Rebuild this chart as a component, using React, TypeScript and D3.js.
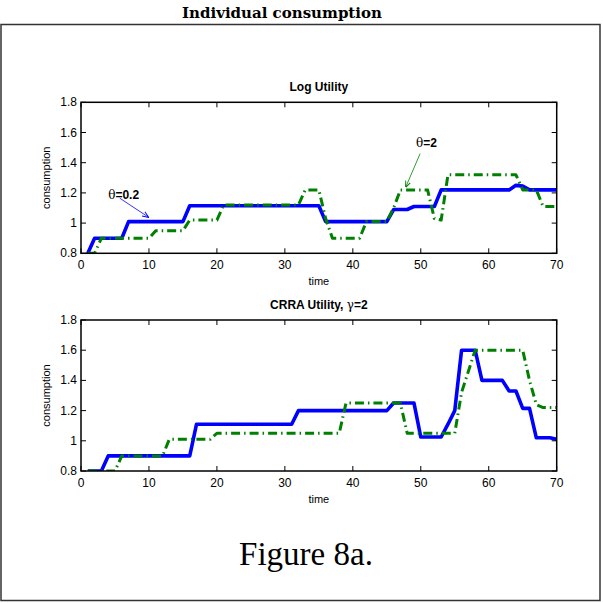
import React from "react";
import * as d3 from "d3";

// Time axis 1..70 and consumption paths for two risk-aversion settings
const time: number[] = d3.range(1, 71);

const logTheta02: number[] = [
  0.8,
  0.9, 0.9, 0.9, 0.9, 0.9,
  1.01, 1.01, 1.01, 1.01, 1.01, 1.01, 1.01, 1.01, 1.01,
  1.115, 1.115, 1.115, 1.115, 1.115, 1.115, 1.115, 1.115, 1.115, 1.115,
  1.115, 1.115, 1.115, 1.115, 1.115, 1.115, 1.115, 1.115, 1.115, 1.115,
  1.01, 1.01, 1.01, 1.01, 1.01, 1.01, 1.01, 1.01, 1.01, 1.01,
  1.09, 1.09, 1.09,
  1.11, 1.11, 1.11, 1.11,
  1.22, 1.22, 1.22, 1.22, 1.22, 1.22, 1.22, 1.22, 1.22, 1.22, 1.22,
  1.25, 1.245,
  1.22, 1.22, 1.22, 1.22, 1.22,
];

const logTheta2: number[] = [
  0.8, 0.8,
  0.9, 0.9, 0.9, 0.9, 0.9, 0.9, 0.9, 0.9,
  0.95, 0.95, 0.95, 0.95, 0.95,
  1.02, 1.02, 1.02, 1.02, 1.02,
  1.12, 1.12, 1.12, 1.12, 1.12, 1.12, 1.12, 1.12, 1.12, 1.12, 1.12, 1.12,
  1.22, 1.22, 1.22,
  1.03,
  0.9, 0.9, 0.9, 0.9, 0.9,
  1.01, 1.01, 1.01, 1.01,
  1.1,
  1.22, 1.22, 1.22, 1.22, 1.22,
  1.03, 1.02,
  1.32, 1.32, 1.32, 1.32, 1.32, 1.32, 1.32, 1.32, 1.32, 1.32, 1.32,
  1.22, 1.22, 1.22,
  1.11, 1.11, 1.11,
];

const crraTheta02: number[] = [
  0.8, 0.8, 0.8,
  0.9, 0.9, 0.9, 0.9, 0.9, 0.9, 0.9, 0.9, 0.9, 0.9, 0.9, 0.9, 0.9,
  1.11, 1.11, 1.11, 1.11, 1.11, 1.11, 1.11, 1.11, 1.11, 1.11, 1.11, 1.11, 1.11, 1.11, 1.11,
  1.2, 1.2, 1.2, 1.2, 1.2, 1.2, 1.2, 1.2, 1.2, 1.2, 1.2, 1.2, 1.2, 1.2,
  1.25, 1.25, 1.25, 1.25,
  1.025, 1.025, 1.025, 1.025,
  1.11, 1.2,
  1.6, 1.6, 1.6,
  1.4, 1.4, 1.4, 1.4,
  1.33, 1.33,
  1.215, 1.215,
  1.02, 1.02, 1.02,
  1.01,
];

const crraTheta2: number[] = [
  0.8, 0.8, 0.8, 0.8, 0.8,
  0.9, 0.9, 0.9, 0.9, 0.9, 0.9, 0.9,
  1.01, 1.01, 1.01, 1.01, 1.01, 1.01, 1.01,
  1.05, 1.05, 1.05, 1.05, 1.05, 1.05, 1.05, 1.05, 1.05, 1.05,
  1.05, 1.05, 1.05, 1.05, 1.05, 1.05, 1.05, 1.05, 1.05,
  1.25, 1.25, 1.25, 1.25, 1.25, 1.25, 1.25, 1.25, 1.25,
  1.05, 1.05, 1.05, 1.05, 1.05, 1.05, 1.05, 1.05,
  1.32, 1.46,
  1.6, 1.6, 1.6, 1.6, 1.6, 1.6, 1.6, 1.6,
  1.4, 1.24,
  1.22, 1.22, 1.22,
];

const xTicks: number[] = [0, 10, 20, 30, 40, 50, 60, 70];
const yTicks: number[] = [0.8, 1, 1.2, 1.4, 1.6, 1.8];

const BLUE = "#0000ff";
const GREEN = "#008000";
const SANS = "'Liberation Sans', Arial, sans-serif";

type PanelProps = {
  top: number;
  title: React.ReactNode;
  blue: number[];
  green: number[];
  children?: (x: d3.ScaleLinear<number, number>, y: d3.ScaleLinear<number, number>) => React.ReactNode;
};

const LEFT = 81;
const RIGHT = 556.7;
const PLOT_H = 151;

function Panel({ top, title, blue, green, children }: PanelProps) {
  const x = d3.scaleLinear().domain([0, 70]).range([LEFT, RIGHT]);
  const y = d3.scaleLinear().domain([0.8, 1.8]).range([top + PLOT_H, top]);
  const line = (vals: number[]) =>
    d3
      .line<number>()
      .x((_, i) => x(time[i]))
      .y((d) => y(d))(vals) ?? "";
  const tick = 5;
  const clipId = `clip-${Math.round(top)}`;
  return (
    <g>
      <defs>
        <clipPath id={clipId}>
          <rect x={LEFT} y={top - 2} width={RIGHT - LEFT} height={PLOT_H + 2} />
        </clipPath>
      </defs>
      <text
        x={(LEFT + RIGHT) / 2}
        y={top - 11}
        textAnchor="middle"
        fontFamily={SANS}
        fontWeight="bold"
        fontSize={12}
      >
        {title}
      </text>
      <g clipPath={`url(#${clipId})`}>
        <path d={line(blue)} fill="none" stroke={BLUE} strokeWidth={3.6} strokeLinejoin="round" />
        <path
          d={line(green)}
          fill="none"
          stroke={GREEN}
          strokeWidth={3}
          strokeDasharray="9,4,1.5,4"
          strokeLinejoin="round"
        />
      </g>
      {/* box with inward ticks on all four sides */}
      <rect x={LEFT} y={top} width={RIGHT - LEFT} height={PLOT_H} fill="none" stroke="#000" strokeWidth={1.5} />
      {xTicks.map((t) => (
        <g key={`x${t}`}>
          <line x1={x(t)} x2={x(t)} y1={y(0.8)} y2={y(0.8) - tick} stroke="#000" />
          <line x1={x(t)} x2={x(t)} y1={y(1.8)} y2={y(1.8) + tick} stroke="#000" />
          <text x={x(t)} y={y(0.8) + 16} textAnchor="middle" fontFamily={SANS} fontSize={12}>
            {t}
          </text>
        </g>
      ))}
      {yTicks.map((v) => (
        <g key={`y${v}`}>
          <line x1={x(0)} x2={x(0) + tick} y1={y(v)} y2={y(v)} stroke="#000" />
          <line x1={x(70)} x2={x(70) - tick} y1={y(v)} y2={y(v)} stroke="#000" />
          <text x={x(0) - 4} y={y(v) + 4} textAnchor="end" fontFamily={SANS} fontSize={12}>
            {v === 1 ? "1" : v.toFixed(1)}
          </text>
        </g>
      ))}
      <text
        transform={`translate(50,${top + PLOT_H / 2}) rotate(-90)`}
        textAnchor="middle"
        fontFamily={SANS}
        fontSize={11}
      >
        consumption
      </text>
      <text x={(LEFT + RIGHT) / 2} y={y(0.8) + 32} textAnchor="middle" fontFamily={SANS} fontSize={11}>
        time
      </text>
      {children && children(x, y)}
    </g>
  );
}

export default function App() {
  return (
    <svg
      width={603}
      height={603}
      style={{ position: "absolute", left: 0, top: 0, background: "#fff" }}
    >
      <defs>
        <marker id="arrBlue" viewBox="0 0 10 10" refX="9" refY="5" markerWidth="8" markerHeight="8" orient="auto">
          <path d="M0,1 L10,5 L0,9" fill="none" stroke={BLUE} strokeWidth={1.5} />
        </marker>
        <marker id="arrGreen" viewBox="0 0 10 10" refX="9" refY="5" markerWidth="8" markerHeight="8" orient="auto">
          <path d="M0,1 L10,5 L0,9" fill="none" stroke={GREEN} strokeWidth={1.5} />
        </marker>
      </defs>
      <rect x={0} y={0} width={603} height={603} fill="#fff" />
      <text
        x={282}
        y={18}
        textAnchor="middle"
        fontFamily="'DejaVu Serif', serif"
        fontWeight="bold"
        fontSize={15}
      >
        Individual consumption
      </text>
      <rect x={1} y={24.5} width={599} height={576} fill="none" stroke="#333" strokeWidth={1.5} />

      <Panel top={102.3} title="Log Utility" blue={logTheta02} green={logTheta2}>
        {(x, y) => (
          <g>
            <text x={x(4)} y={y(1.19) + 5} fontFamily={SANS} fontSize={12}>
              <tspan fontFamily="'DejaVu Serif', serif">θ</tspan>
              <tspan fontWeight="bold">=0.2</tspan>
            </text>
            <line
              x1={x(5.7)}
              y1={y(1.165)}
              x2={x(9.9)}
              y2={y(1.04)}
              stroke={BLUE}
              strokeWidth={0.8}
              markerEnd="url(#arrBlue)"
            />
            <text x={x(49.3)} y={y(1.54) + 5} fontFamily={SANS} fontSize={12}>
              <tspan fontFamily="'DejaVu Serif', serif">θ</tspan>
              <tspan fontWeight="bold">=2</tspan>
            </text>
            <line
              x1={x(49.9)}
              y1={y(1.46)}
              x2={x(47.8)}
              y2={y(1.24)}
              stroke={GREEN}
              strokeWidth={0.8}
              markerEnd="url(#arrGreen)"
            />
          </g>
        )}
      </Panel>

      <Panel
        top={320}
        title={
          <>
            CRRA Utility,{" "}
            <tspan fontFamily="'DejaVu Serif', serif" fontWeight="normal">γ</tspan>=2
          </>
        }
        blue={crraTheta02}
        green={crraTheta2}
      />

      <text
        x={306}
        y={565}
        textAnchor="middle"
        fontFamily="'Liberation Serif', serif"
        fontSize={33}
      >
        Figure 8a.
      </text>
    </svg>
  );
}
